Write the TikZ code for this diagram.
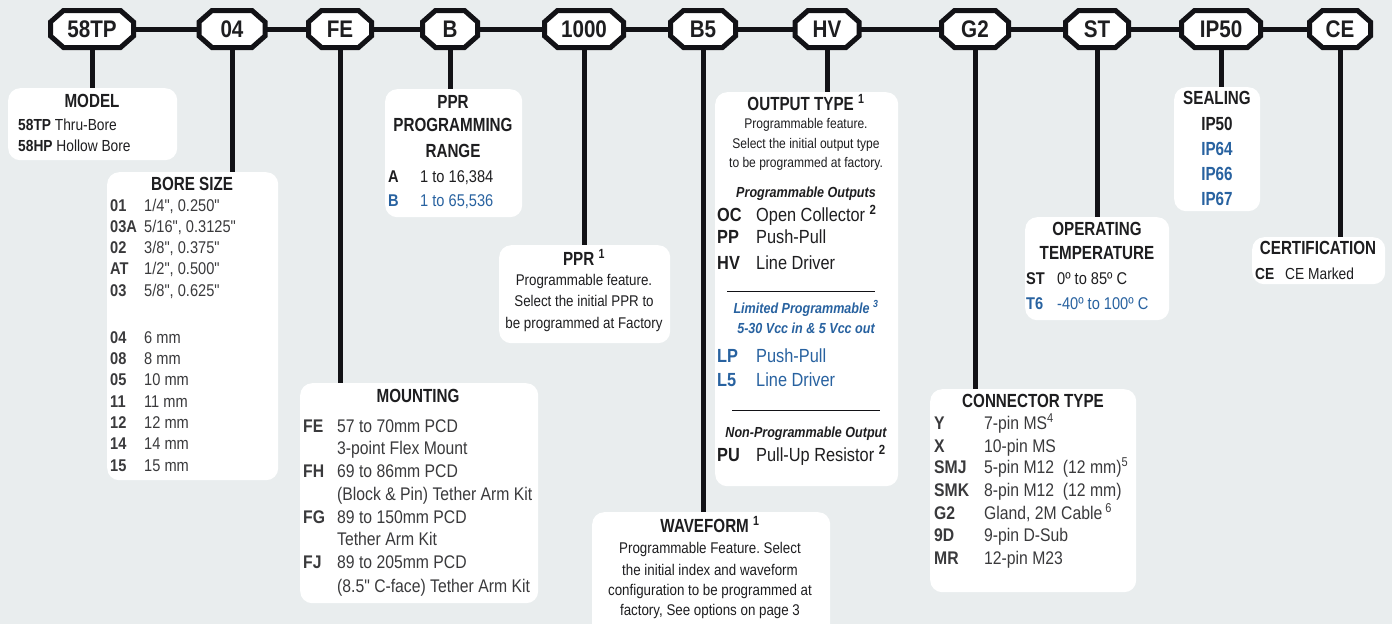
\documentclass[tikz,border=0pt]{standalone}
\usepackage{fontspec}
\setmainfont{Liberation Sans}[FakeStretch=0.86, Ligatures=TeXOff]
\newfontfamily\tfont{Liberation Sans}[FakeStretch=0.80, Ligatures=TeXOff]
\definecolor{bg}{RGB}{233,237,238}
\definecolor{ink}{RGB}{30,30,32}
\definecolor{txt}{RGB}{58,58,60}
\definecolor{blu}{RGB}{40,98,160}
\definecolor{lin}{RGB}{18,18,22}
\frenchspacing
\newcommand\fs[1]{\fontsize{#1}{#1}\selectfont}
\newcommand\octo[4]{%
  \filldraw[octline] (#2-#3+13,10.5) -- (#2+#3-13,10.5) -- (#2+#3,22) -- (#2+#3,36) -- (#2+#3-13,47.5) -- (#2-#3+13,47.5) -- (#2-#3,36) -- (#2-#3,22) -- cycle;
  \node[octtext, minimum width=2*#3] (#1) at (#2,29) {#4};}
\newcommand\rw[6]{%
  \node[code] (#1c) at (#2,#4) {#5};
  \node[val] (#1v) at (#3,#4) {#6};}
\newcommand\bx[5]{\node[box, minimum width=#4-#2, minimum height=#5-#3] (#1) at (#2,#3) {};}
\begin{document}
\begin{tikzpicture}[x=1pt,y=-1pt,
  octtext/.style={inner sep=0pt, minimum height=37pt, font=\fs{24}\bfseries, text=ink},
  octline/.style={draw=lin, line width=5pt, fill=white, line join=miter},
  conn/.style={draw=lin, line width=5pt},
  rulel/.style={draw=lin, line width=0.9pt},
  box/.style={fill=white, rounded corners=12pt, draw=none, inner sep=0pt, anchor=north west},
  ttl/.style={inner sep=0pt, anchor=base, font=\tfont\fs{19}\bfseries, text=ink},
  code/.style={inner sep=0pt, anchor=base west, font=\fs{17}\bfseries, text=txt},
  val/.style={inner sep=0pt, anchor=base west, font=\fs{17}, text=txt},
  desc/.style={inner sep=0pt, anchor=base, font=\fs{15.5}, text=ink},
]
\fill[bg] (0,0) rectangle (1392,624);
\useasboundingbox (0,0) rectangle (1392,624);
\clip (0,0) rectangle (1392,624);

% code octagons
\octo{o58}{92}{41.5}{58TP}
\octo{o04}{232}{33}{04}
\octo{ofe}{340}{31.5}{FE}
\octo{ob}{450}{27.5}{B}
\octo{o1000}{584}{39.5}{1000}
\octo{ob5}{703}{32.5}{B5}
\octo{ohv}{827}{32}{HV}
\octo{og2}{975}{33.5}{G2}
\octo{ost}{1097}{31.5}{ST}
\octo{oip}{1221}{39.5}{IP50}
\octo{oce}{1340}{30.5}{CE}

% boxes
\bx{bmodel}{8}{88}{177}{160}
\bx{bbore}{107}{172}{278}{480}
\bx{bmount}{300}{383}{538}{603}
\bx{brange}{385}{89}{522}{217}
\bx{bppr}{499}{245}{670}{343}
\bx{bout}{715}{92}{898}{486}
\bx{bwave}{592}{512}{830}{650}
\bx{bconn}{930}{389}{1136}{592}
\bx{btemp}{1025}{217}{1169}{320}
\bx{bseal}{1174}{87}{1260}{211}
\bx{bcert}{1252}{237}{1385}{284}

% connectors
\draw[conn] (o58.east) -- (o04.west);
\draw[conn] (o04.east) -- (ofe.west);
\draw[conn] (ofe.east) -- (ob.west);
\draw[conn] (ob.east) -- (o1000.west);
\draw[conn] (o1000.east) -- (ob5.west);
\draw[conn] (ob5.east) -- (ohv.west);
\draw[conn] (ohv.east) -- (og2.west);
\draw[conn] (og2.east) -- (ost.west);
\draw[conn] (ost.east) -- (oip.west);
\draw[conn] (oip.east) -- (oce.west);
\draw[conn] (o58.south) -- (o58.south |- bmodel.north);
\draw[conn] (o04.south) -- (o04.south |- bbore.north);
\draw[conn] (ofe.south) -- (ofe.south |- bmount.north);
\draw[conn] (ob.south) -- (ob.south |- brange.north);
\draw[conn] (o1000.south) -- (o1000.south |- bppr.north);
\draw[conn] (ob5.south) -- (ob5.south |- bwave.north);
\draw[conn] (ohv.south) -- (ohv.south |- bout.north);
\draw[conn] (og2.south) -- (og2.south |- bconn.north);
\draw[conn] (ost.south) -- (ost.south |- btemp.north);
\draw[conn] (oip.south) -- (oip.south |- bseal.north);
\draw[conn] (oce.south) -- (oce.south |- bcert.north);

% MODEL
\node[ttl] (tmodel) at (92,107) {MODEL};
\begin{scope}[val/.append style={font=\fs{16}, text=ink}]
\node[val] (m1) at (18,130) {\textbf{58TP} Thru-Bore};
\node[val] (m2) at (18,151) {\textbf{58HP} Hollow Bore};
\end{scope}

% BORE SIZE
\node[ttl] (tbore) at (192,190) {BORE SIZE};
\rw{b1}{110}{144}{211}{01}{1/4", 0.250"}
\rw{b2}{110}{144}{232}{03A}{5/16", 0.3125"}
\rw{b3}{110}{144}{253}{02}{3/8", 0.375"}
\rw{b4}{110}{144}{274}{AT}{1/2", 0.500"}
\rw{b5}{110}{144}{296}{03}{5/8", 0.625"}
\rw{b6}{110}{144}{343}{04}{6 mm}
\rw{b7}{110}{144}{364}{08}{8 mm}
\rw{b8}{110}{144}{385}{05}{10 mm}
\rw{b9}{110}{144}{407}{11}{11 mm}
\rw{b10}{110}{144}{428}{12}{12 mm}
\rw{b11}{110}{144}{449}{14}{14 mm}
\rw{b12}{110}{144}{471}{15}{15 mm}

% MOUNTING
\node[ttl] (tmount) at (418,402) {MOUNTING};
\begin{scope}[code/.append style={font=\fs{18.3}\bfseries}, val/.append style={font=\fs{18.3}}]
\rw{f1}{303}{337}{432}{FE}{57 to 70mm PCD}
\node[val] (f1b) at (337,454) {3-point Flex Mount};
\rw{f2}{303}{337}{477}{FH}{69 to 86mm PCD}
\node[val] (f2b) at (337,500) {(Block \& Pin) Tether Arm Kit};
\rw{f3}{303}{337}{523}{FG}{89 to 150mm PCD}
\node[val] (f3b) at (337,545) {Tether Arm Kit};
\rw{f4}{303}{337}{568}{FJ}{89 to 205mm PCD}
\node[val] (f4b) at (337,592) {(8.5" C-face) Tether Arm Kit};
\end{scope}

% PPR RANGE
\node[ttl] (tr1) at (453,108) {PPR};
\node[ttl] (tr2) at (453,131) {PROGRAMMING};
\node[ttl] (tr3) at (453,157) {RANGE};
\begin{scope}[code/.append style={text=ink}, val/.append style={text=ink}]
\rw{r1}{388}{420}{182}{A}{1 to 16,384}
\end{scope}
\begin{scope}[code/.append style={text=blu}, val/.append style={text=blu}]
\rw{r2}{388}{420}{206}{B}{1 to 65,536}
\end{scope}

% PPR
\node[ttl] (tppr) at (584,265) {PPR \textsuperscript{1}};
\node[desc] (p1) at (584,285) {Programmable feature.};
\node[desc] (p2) at (584,306) {Select the initial PPR to};
\node[desc] (p3) at (584,328) {be programmed at Factory};

% OUTPUT TYPE
\node[ttl] (tout) at (806,110) {OUTPUT TYPE \textsuperscript{1}};
\begin{scope}[desc/.append style={font=\fs{14}}]
\node[desc] (d1) at (806,128) {Programmable feature.};
\node[desc] (d2) at (806,148) {Select the initial output type};
\node[desc] (d3) at (806,167) {to be programmed at factory.};
\node[desc, font=\fs{14.6}\bfseries\itshape] (d4) at (806,197) {Programmable Outputs};
\node[desc, font=\fs{14.6}\bfseries\itshape, text=blu] (d5) at (806,313) {Limited Programmable \textsuperscript{3}};
\node[desc, font=\fs{14.6}\bfseries\itshape, text=blu] (d6) at (806,333) {5-30 Vcc in \& 5 Vcc out};
\node[desc, font=\fs{14.6}\bfseries\itshape] (d7) at (806,437) {Non-Programmable Output};
\end{scope}
\begin{scope}[code/.append style={font=\fs{19}\bfseries, text=ink}, val/.append style={font=\fs{19}, text=ink}]
\rw{q1}{717}{756}{221}{OC}{Open Collector \textsuperscript{\bfseries 2}}
\rw{q2}{717}{756}{243}{PP}{Push-Pull}
\rw{q3}{717}{756}{269}{HV}{Line Driver}
\rw{q6}{717}{756}{461}{PU}{Pull-Up Resistor \textsuperscript{\bfseries 2}}
\end{scope}
\begin{scope}[code/.append style={font=\fs{19}\bfseries, text=blu}, val/.append style={font=\fs{19}, text=blu}]
\rw{q4}{717}{756}{362}{LP}{Push-Pull}
\rw{q5}{717}{756}{386}{L5}{Line Driver}
\end{scope}
\coordinate (r1a) at (727,291);
\coordinate (r1b) at (875,291);
\coordinate (r2a) at (732,410);
\coordinate (r2b) at (880,410);
\draw[rulel] (r1a) -- (r1b);
\draw[rulel] (r2a) -- (r2b);

% WAVEFORM
\node[ttl] (twave) at (710,532) {WAVEFORM \textsuperscript{1}};
\node[desc] (w1) at (710,553) {Programmable Feature. Select};
\node[desc] (w2) at (710,575) {the initial index and waveform};
\node[desc] (w3) at (710,595) {configuration to be programmed at};
\node[desc] (w4) at (710,615) {factory, See options on page 3};

% CONNECTOR TYPE
\node[ttl] (tconn) at (1033,407) {CONNECTOR TYPE};
\begin{scope}[code/.append style={font=\fs{18.3}\bfseries}, val/.append style={font=\fs{18.3}}]
\rw{c1}{934}{984}{429}{Y}{7-pin MS\textsuperscript{4}}
\rw{c2}{934}{984}{452}{X}{10-pin MS}
\rw{c3}{934}{984}{473}{SMJ}{5-pin M12\ \ (12 mm)\textsuperscript{5}}
\rw{c4}{934}{984}{496}{SMK}{8-pin M12\ \ (12 mm)}
\rw{c5}{934}{984}{519}{G2}{Gland, 2M Cable\,\textsuperscript{6}}
\rw{c6}{934}{984}{541}{9D}{9-pin D-Sub}
\rw{c7}{934}{984}{564}{MR}{12-pin M23}
\end{scope}

% OPERATING TEMPERATURE
\node[ttl] (tt1) at (1097,235) {OPERATING};
\node[ttl] (tt2) at (1097,259) {TEMPERATURE};
\begin{scope}[code/.append style={text=ink}, val/.append style={text=ink}]
\rw{s1}{1026}{1057}{284}{ST}{0º to 85º C}
\end{scope}
\begin{scope}[code/.append style={text=blu}, val/.append style={text=blu}]
\rw{s2}{1026}{1057}{309}{T6}{-40º to 100º C}
\end{scope}

% SEALING
\node[ttl] (tseal) at (1217,104) {SEALING};
\node[ttl] (ip1) at (1217,130) {IP50};
\node[ttl, text=blu] (ip2) at (1217,155) {IP64};
\node[ttl, text=blu] (ip3) at (1217,180) {IP66};
\node[ttl, text=blu] (ip4) at (1217,205) {IP67};

% CERTIFICATION
\node[ttl] (tcert) at (1318,254) {CERTIFICATION};
\begin{scope}[code/.append style={font=\fs{16}\bfseries, text=ink}, val/.append style={font=\fs{16}, text=ink}]
\rw{e1}{1255}{1285}{279}{CE}{CE Marked}
\end{scope}
\end{tikzpicture}
\end{document}
